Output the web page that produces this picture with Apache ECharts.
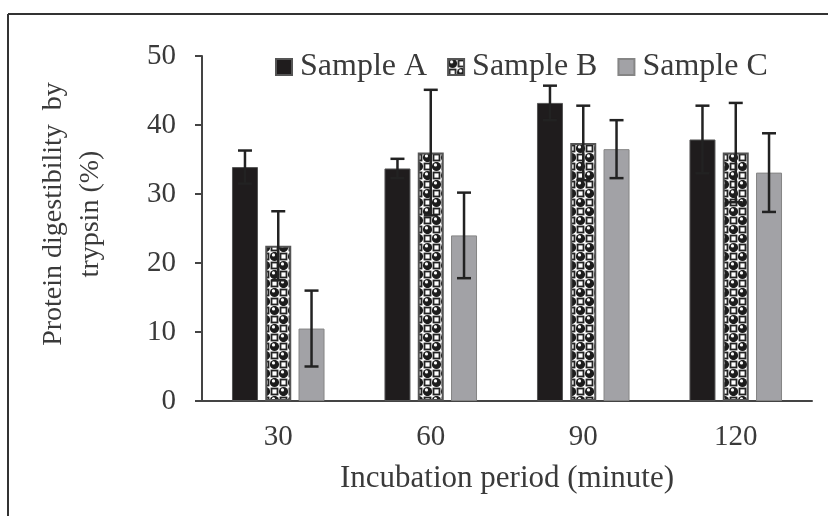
<!DOCTYPE html>
<html>
<head>
<meta charset="utf-8">
<script src="https://cdn.jsdelivr.net/npm/echarts@6/dist/echarts.min.js"></script>
<style>
  html, body { margin: 0; padding: 0; background: #fff; }
  #chart { width: 828px; height: 516px; }
</style>
</head>
<body>
<div id="chart"></div>
<script>
  // data
  var periods = ['30', '60', '90', '120'];
  var sampleA = [33.9, 33.7, 43.2, 37.9];
  var sampleAErr = [2.4, 1.4, 2.5, 4.9];
  var sampleB = [22.5, 36.0, 37.4, 36.0];
  var sampleBErr = [5.0, 9.1, 5.4, 7.2];
  var sampleC = [10.5, 24.0, 36.5, 33.1];
  var sampleCErr = [5.5, 6.2, 4.2, 5.7];
  var yTicks = [0, 10, 20, 30, 40, 50];

  var font = 'Liberation Serif';
  var textColor = '#3a3a3a';
  var barWidth = 26;
  var barGap = 0.28;
  var barStep = barWidth * (1 + barGap);

  // circles + squares pattern for sample B
  function makePattern() {
    var s = 9;
    var c = document.createElement('canvas');
    c.width = s * 2; c.height = s * 2;
    var g = c.getContext('2d');
    g.fillStyle = '#fff';
    g.fillRect(0, 0, s * 2, s * 2);
    [[0, 0], [s, s]].forEach(function (p) {
      g.fillStyle = '#1c1c1c';
      g.beginPath();
      g.arc(p[0] + s / 2, p[1] + s / 2, 4.6, 0, Math.PI * 2);
      g.fill();
      g.fillStyle = '#fff';
      g.beginPath();
      g.arc(p[0] + s / 2 - 1, p[1] + s / 2 - 1.6, 1.6, 0, Math.PI * 2);
      g.fill();
    });
    g.strokeStyle = '#222';
    g.lineWidth = 1.8;
    [[s, 0], [0, s]].forEach(function (p) {
      g.strokeRect(p[0] + 1.5, p[1] + 1.5, s - 3, s - 3);
    });
    return c;
  }

  function errSeries(name, k, vals, errs) {
    return {
      name: name + ' err',
      type: 'custom',
      z: 10,
      data: vals.map(function (v, i) { return [i, v, errs[i]]; }),
      renderItem: function (params, api) {
        var i = api.value(0);
        var hi = api.coord([i, api.value(1) + api.value(2)]);
        var lo = api.coord([i, api.value(1) - api.value(2)]);
        var x = hi[0] + (k - 1) * barStep;
        var cap = 7;
        var st = { stroke: '#222', lineWidth: 2.5 };
        return {
          type: 'group',
          children: [
            { type: 'line', shape: { x1: x, y1: hi[1], x2: x, y2: lo[1] }, style: st },
            { type: 'line', shape: { x1: x - cap, y1: hi[1], x2: x + cap, y2: hi[1] }, style: st },
            { type: 'line', shape: { x1: x - cap, y1: lo[1], x2: x + cap, y2: lo[1] }, style: st }
          ]
        };
      }
    };
  }

  var chart = echarts.init(document.getElementById('chart'));
  chart.setOption({
    backgroundColor: '#fff',
    animation: false,
    grid: { left: 202, right: 16, top: 56, bottom: 115 },
    legend: {
      data: ['Sample A', 'Sample B', 'Sample C'],
      left: 270,
      top: 46,
      itemWidth: 16,
      itemHeight: 16,
      itemGap: 20,
      icon: 'rect',
      textStyle: { fontFamily: font, fontSize: 32, color: textColor, padding: [0, 0, 0, 3] }
    },
    xAxis: {
      type: 'category',
      data: periods,
      axisLine: { lineStyle: { color: '#444', width: 2 } },
      axisTick: { length: 8, lineStyle: { color: '#444', width: 2 } },
      axisLabel: { fontFamily: font, fontSize: 29, color: textColor, margin: 22 },
      name: 'Incubation period (minute)',
      nameLocation: 'middle',
      nameGap: 62,
      nameTextStyle: { fontFamily: font, fontSize: 31, color: textColor }
    },
    yAxis: {
      type: 'value',
      min: yTicks[0],
      max: yTicks[yTicks.length - 1],
      interval: 10,
      splitLine: { show: false },
      axisLine: { show: true, lineStyle: { color: '#444', width: 2 } },
      axisTick: { show: true, length: 7, lineStyle: { color: '#444', width: 2 } },
      axisLabel: { fontFamily: font, fontSize: 29, color: textColor, margin: 26 }
    },
    graphic: [
      { type: 'line', shape: { x1: 8, y1: 14, x2: 828, y2: 14 }, style: { stroke: '#333', lineWidth: 2 } },
      { type: 'line', shape: { x1: 8, y1: 14, x2: 8, y2: 516 }, style: { stroke: '#333', lineWidth: 2 } },
      {
        type: 'text',
        x: 72, y: 214,
        rotation: Math.PI / 2,
        style: {
          text: 'Protein digestibility  by\ntrypsin (%)',
          fontFamily: font, fontSize: 28, fill: textColor,
          align: 'center', verticalAlign: 'middle', lineHeight: 37
        }
      }
    ],
    series: [
      {
        name: 'Sample A', type: 'bar', data: sampleA,
        barWidth: barWidth, barGap: (barGap * 100) + '%',
        itemStyle: { color: '#1f1c1d', borderColor: '#555', borderWidth: 1 }
      },
      {
        name: 'Sample B', type: 'bar', data: sampleB,
        barWidth: barWidth, barGap: (barGap * 100) + '%',
        itemStyle: { color: { image: makePattern(), repeat: 'repeat' }, borderColor: '#555', borderWidth: 2 }
      },
      {
        name: 'Sample C', type: 'bar', data: sampleC,
        barWidth: barWidth, barGap: (barGap * 100) + '%',
        itemStyle: { color: '#a2a2a6', borderColor: '#858585', borderWidth: 1 }
      },
      errSeries('Sample A', 0, sampleA, sampleAErr),
      errSeries('Sample B', 1, sampleB, sampleBErr),
      errSeries('Sample C', 2, sampleC, sampleCErr)
    ]
  });
</script>
</body>
</html>
